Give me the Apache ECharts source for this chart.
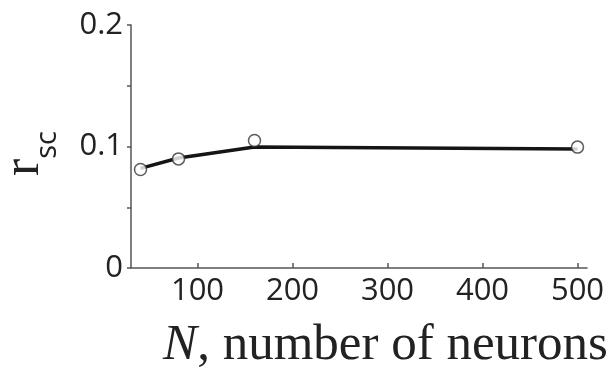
<!DOCTYPE html>
<html>
<head>
<meta charset="utf-8">
<script src="https://cdn.jsdelivr.net/npm/echarts@6/dist/echarts.min.js"></script>
<style>
  html, body { margin: 0; padding: 0; background: #fff; }
  #chart { width: 611px; height: 372px; }
</style>
</head>
<body>
<div id="chart"></div>
<script>
// Noise correlation r_sc versus population size N
const fitN = [40, 80, 160, 500];
const fitR = [0.082, 0.0905, 0.0996, 0.098];
const obsN = [40, 80, 160, 500];
const obsR = [0.081, 0.0898, 0.105, 0.0995];
const xTicks = [100, 200, 300, 400, 500];
const yTicks = [0, 0.1, 0.2];

const chart = echarts.init(document.getElementById('chart'));
const sans = '"Open Sans", "Noto Sans", sans-serif';
const serif = '"Liberation Serif", "DejaVu Serif", serif';

chart.setOption({
  animation: false,
  backgroundColor: '#fff',
  grid: { left: 131, top: 25, right: 24, bottom: 104, outerBoundsMode: 'none' },
  xAxis: {
    type: 'value',
    min: 30,
    max: 510,
    splitLine: { show: false },
    axisLine: { lineStyle: { color: '#555', width: 1.5 } },
    axisTick: { inside: true, length: 5, customValues: xTicks, lineStyle: { color: '#555', width: 1.5 } },
    axisLabel: { customValues: xTicks, fontFamily: sans, fontSize: 31, color: '#222', margin: 8 },
    name: '{i|N}{t|, number of neurons}',
    nameLocation: 'middle',
    nameGap: 52,
    nameTextStyle: {
      padding: [0, 0, 0, 53],
      rich: {
        i: { fontFamily: serif, fontStyle: 'italic', fontSize: 51, color: '#222' },
        t: { fontFamily: serif, fontSize: 51, color: '#222' }
      }
    }
  },
  yAxis: {
    type: 'value',
    min: 0,
    max: 0.2,
    interval: 0.05,
    splitLine: { show: false },
    axisLine: { lineStyle: { color: '#555', width: 1.5 } },
    axisTick: { length: 4, lineStyle: { color: '#555', width: 1.5 } },
    axisLabel: {
      customValues: yTicks,
      formatter: v => String(Math.round(v * 10) / 10),
      fontFamily: sans, fontSize: 31, color: '#222', margin: 8
    },
    name: '{r|r}{s|sc}',
    nameLocation: 'middle',
    nameGap: 69,
    nameTextStyle: {
      padding: [0, 14, 0, 0],
      rich: {
        r: { fontFamily: serif, fontSize: 52, color: '#222', verticalAlign: 'bottom', padding: [0, 0, 12, 0] },
        s: { fontFamily: sans, fontSize: 29, color: '#222', verticalAlign: 'bottom' }
      }
    }
  },
  series: [
    {
      type: 'line',
      data: fitN.map((n, i) => [n, fitR[i]]),
      showSymbol: false,
      lineStyle: { color: '#151515', width: 3.5 },
      z: 2
    },
    {
      type: 'scatter',
      data: obsN.map((n, i) => [n, obsR[i]]),
      symbol: 'circle',
      symbolSize: 12,
      itemStyle: { color: '#fff', borderColor: '#333', borderWidth: 1.5 },
      z: 3
    }
  ]
});
</script>
</body>
</html>
